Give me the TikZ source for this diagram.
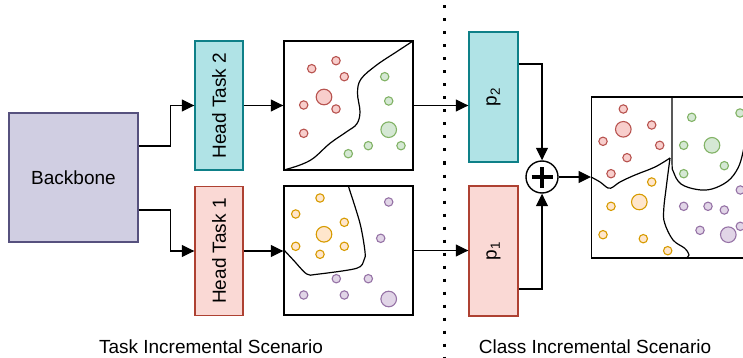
\documentclass[tikz,border=0pt]{standalone}
\usepackage{fontspec}
\setmainfont{Liberation Sans}
\usetikzlibrary{arrows.meta,positioning}

\definecolor{bbF}{HTML}{D0CEE2}
\definecolor{bbD}{HTML}{56517E}
\definecolor{tealF}{HTML}{B0E3E6}
\definecolor{tealD}{HTML}{0E8088}
\definecolor{pinkF}{HTML}{FAD9D5}
\definecolor{pinkD}{HTML}{AE4132}
\definecolor{redF}{HTML}{F8CECC}
\definecolor{redD}{HTML}{B85450}
\definecolor{greenF}{HTML}{D5E8D4}
\definecolor{greenD}{HTML}{82B366}
\definecolor{orangeF}{HTML}{FFE6CC}
\definecolor{orangeD}{HTML}{D79B00}
\definecolor{purpleF}{HTML}{E1D5E7}
\definecolor{purpleD}{HTML}{9673A6}

\begin{document}
\begin{tikzpicture}[x=1pt, y=-1pt, line width=1.2pt, >={Triangle[length=12.5pt,width=12pt]},
  box/.style = {draw, line width=1.4pt, inner sep=0pt},
  txt/.style = {font=\fontsize{19}{23}\selectfont},
  head/.style = {box, minimum width=48pt, minimum height=129pt},
  plane/.style = {box, draw=black, minimum width=129pt, minimum height=129pt},
  conn/.style = {->},
  border/.style = {line width=1.2pt},
  redpt/.style = {draw=redD, fill=redF, line width=1.1pt},
  greenpt/.style = {draw=greenD, fill=greenF, line width=1.1pt},
  orangept/.style = {draw=orangeD, fill=orangeF, line width=1.1pt},
  purplept/.style = {draw=purpleD, fill=purpleF, line width=1.1pt}]
  \clip (0,0) rectangle (743,358);

  % Nodes
  \node[box, fill=bbF, draw=bbD, minimum width=129pt, minimum height=129pt, txt] (backbone) at (73.5,177.5) {Backbone};
  \node[head, fill=tealF, draw=tealD] (head2) at (219,105.5) {};
  \node[txt, rotate=90] at (head2) {Head Task 2};
  \node[head, fill=pinkF, draw=pinkD] (head1) at (219,251) {};
  \node[txt, rotate=90] at (head1) {Head Task 1};

  \node[plane] (plane2) at (348.5,105.5) {};
  \node[plane] (plane1) at (348.5,250.5) {};

  \node[head, fill=tealF, draw=tealD, minimum width=49pt, minimum height=130pt] (p2) at (493.5,97) {};
  \node[txt, rotate=90] at (p2) {p\textsubscript{2}};
  \node[head, fill=pinkF, draw=pinkD, minimum width=49pt, minimum height=130pt] (p1) at (493.5,251) {};
  \node[txt, rotate=90] at (p1) {p\textsubscript{1}};

  \node[draw, circle, line width=1.4pt, minimum size=32pt, inner sep=0pt] (plus) at (542,177) {};
  \draw[line width=4pt] ([xshift=-10.5pt]plus.center) -- ([xshift=10.5pt]plus.center)
                        ([yshift=-10.5pt]plus.center) -- ([yshift=10.5pt]plus.center);

  \node[plane, anchor=west, minimum width=180pt, minimum height=161pt] (merged) at (591,177.5) {};

  \node[txt] (tasklabel) at (211,347) {Task Incremental Scenario};
  \node[txt] (classlabel) at (595,347) {Class Incremental Scenario};

  % Divider
  \coordinate (divtop) at (444,5.5);
  \coordinate (divbot) at (444,358);
  \draw[line width=3pt, dash pattern=on 3pt off 10pt] (divtop) -- (divbot);

  % Paths
  \draw[conn] ([yshift=31.5pt]backbone.east) -- ++(32,0) |- (head2.west);
  \draw[conn] ([yshift=-32.5pt]backbone.east) -- ++(32,0) |- (head1.west);
  \draw[conn] (head2.east) -- (head2.east -| plane2.west);
  \draw[conn] (head1.east) -- (head1.east -| plane1.west);
  \draw[conn] (plane2.east) -- (plane2.east -| p2.west);
  \draw[conn] (plane1.east) -- (plane1.east -| p1.west);
  \draw[conn] ([yshift=33pt]p2.east) -| (plus.north);
  \draw[conn] ([yshift=-38pt]p1.east) -| (plus.south);
  \draw[conn] (plus.east) -- (plus.east -| merged.west);

  % Task 2 plane
  \draw[border] plot[smooth, tension=0.6] coordinates {(284,170) (300,165) (313.3,158.3) (330,143.3) (346.7,131.7) (356.7,124) (360,112) (357.5,93) (361,79) (376.7,65) (396.7,51.7) (413,41)};
  \foreach \cx/\cy in {311.7/68.7, 336/60.7, 344.3/76.7, 303.7/105, 336/109, 303.7/133.3}
    \draw[redpt] (\cx,\cy) circle (4.2pt);
  \draw[redpt] (324,97) circle (7.8pt);
  \foreach \cx/\cy in {384.7/76.7, 388.7/101, 368.3/145.7, 348.3/153.7, 401/145.7}
    \draw[greenpt] (\cx,\cy) circle (4.2pt);
  \draw[greenpt] (388.7,129.7) circle (7.8pt);

  % Task 1 plane
  \draw[border] plot[smooth, tension=0.5] coordinates {(284,250) (293.3,260) (306.7,274) (316.7,274.3) (356.7,268.3) (364,260) (365,251.7) (360,223.3) (348.3,186)};
  \foreach \cx/\cy in {320/198, 295.7/214, 344.3/222.3, 295.7/246.3, 320/254.3, 344.3/246.3}
    \draw[orangept] (\cx,\cy) circle (4.2pt);
  \draw[orangept] (324,234.3) circle (7.8pt);
  \foreach \cx/\cy in {388.7/202, 380.7/238.3, 336.3/278.7, 368.3/278.7, 303.7/295, 344.3/295}
    \draw[purplept] (\cx,\cy) circle (4.2pt);
  \draw[purplept] (388.7,299) circle (7.8pt);

  % Merged plane
  \draw[border] plot[smooth, tension=0.6] coordinates {(591,177) (600,182) (608,188) (613,187) (620,182) (635,175) (655,167) (670,158)};
  \draw[border] plot[smooth, tension=0.6] coordinates {(672,97) (672,160) (673.5,172) (681,184) (697,189.5) (712,189) (728,181) (738,168) (743,152) (748,125)};
  \draw[border] plot[smooth, tension=0.6] coordinates {(670,158) (666.3,186.7) (663.7,210) (664.7,223.3) (673,240) (684.7,248.3) (689,255) (686,258)};
  \foreach \cx/\cy in {623.3/109, 651.7/125, 603/141.3, 659.7/145.3, 627/157.7, 611/173.7}
    \draw[redpt] (\cx,\cy) circle (4.2pt);
  \draw[redpt] (623.3,129.3) circle (7.8pt);
  \foreach \cx/\cy in {691.7/117.3, 740/113, 683.7/145.3, 724.3/165.7, 683.7/173.7}
    \draw[greenpt] (\cx,\cy) circle (4.2pt);
  \draw[greenpt] (712,145.3) circle (7.8pt);
  \foreach \cx/\cy in {651.7/182, 611/206.3, 603/234.7, 643.3/238.7, 667.7/250.7}
    \draw[orangept] (\cx,\cy) circle (4.2pt);
  \draw[orangept] (639.3,202) circle (7.8pt);
  \foreach \cx/\cy in {683.7/206.3, 708/206.3, 724.3/210, 740.3/190, 700/230.3, 740.3/226.3}
    \draw[purplept] (\cx,\cy) circle (4.2pt);
  \draw[purplept] (728.3,234.7) circle (7.8pt);
\end{tikzpicture}
\end{document}
